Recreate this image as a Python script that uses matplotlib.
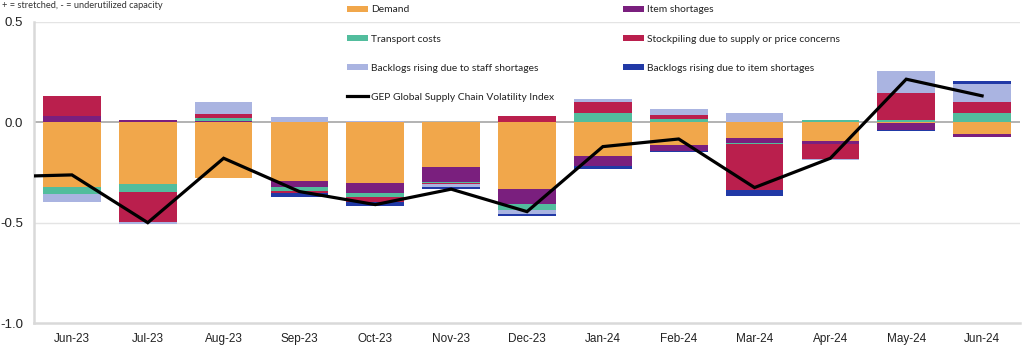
import numpy as np
import matplotlib
matplotlib.use("Agg")
import matplotlib.pyplot as plt
from matplotlib.patches import Patch
from matplotlib.lines import Line2D

months = ["Jun-23", "Jul-23", "Aug-23", "Sep-23", "Oct-23", "Nov-23", "Dec-23",
          "Jan-24", "Feb-24", "Mar-24", "Apr-24", "May-24", "Jun-24"]

# component contributions, stacked in this order
demand = [-0.323, -0.307, -0.277, -0.292, -0.300, -0.221, -0.333,
          -0.166, -0.113, -0.076, -0.093, -0.005, -0.058]
item_shortages = [0.033, 0.011, 0.008, -0.028, -0.053, -0.075, -0.073,
                  -0.050, -0.028, -0.026, -0.013, -0.035, -0.015]
transport = [-0.032, -0.038, 0.015, -0.020, -0.017, -0.008, -0.033,
             0.047, 0.016, -0.006, 0.011, 0.011, 0.048]
stockpiling = [0.100, -0.150, 0.018, -0.013, -0.028, -0.005, 0.033,
               0.055, 0.020, -0.227, -0.078, 0.133, 0.055]
backlog_staff = [-0.040, -0.012, 0.060, 0.028, 0.008, -0.012, -0.020,
                 0.015, 0.028, 0.045, -0.005, 0.112, 0.088]
backlog_item = [0.0, 0.0, 0.0, -0.017, -0.018, -0.013, -0.010,
                -0.017, -0.008, -0.030, 0.0, -0.003, 0.017]

# index line, first value is May-23 (runs in from the left edge)
index_x = list(range(-1, len(months)))
index_vals = [-0.272, -0.262, -0.500, -0.179, -0.345, -0.410, -0.333, -0.445,
              -0.121, -0.083, -0.325, -0.179, 0.215, 0.132]

series = [
    ("Demand", demand, "#F1A74B"),
    ("Item shortages", item_shortages, "#7A1F7E"),
    ("Transport costs", transport, "#52BD9D"),
    ("Stockpiling due to supply or price concerns", stockpiling, "#BA1F4D"),
    ("Backlogs rising due to staff shortages", backlog_staff, "#AAB4E1"),
    ("Backlogs rising due to item shortages", backlog_item, "#2139A6"),
]

plt.rcParams["font.family"] = ["Liberation Sans", "DejaVu Sans"]

fig = plt.figure(figsize=(10.24, 3.47), dpi=100)
ax = fig.add_axes([34 / 1024, 1 - 323 / 347, (1020 - 34) / 1024, (323 - 22) / 347])

x = np.arange(len(months))
pos_base = np.zeros(len(months))
neg_base = np.zeros(len(months))
handles = {}
for name, vals, color in series:
    v = np.array(vals)
    bottom = np.where(v >= 0, pos_base, neg_base)
    ax.bar(x, v, width=0.76, bottom=bottom, color=color, linewidth=0, zorder=2)
    pos_base += np.clip(v, 0, None)
    neg_base += np.clip(v, None, 0)
    handles[name] = Patch(facecolor=color, edgecolor="none")

ax.plot(index_x, index_vals, color="black", linewidth=2.3, zorder=3,
        solid_joinstyle="miter")

ax.set_xlim(-0.5, len(months) - 0.5)
ax.set_ylim(-1.0, 0.5)
ax.set_yticks([-1.0, -0.5, 0.0, 0.5])
ax.set_yticklabels(["-1.0", "-0.5", "0.0", "0.5"])
ax.set_xticks(x)
ax.set_xticklabels(months)
ax.tick_params(axis="both", length=0, labelsize=8.5, colors="#222222")
ax.tick_params(axis="y", labelsize=9.5, pad=8)
ax.tick_params(axis="x", pad=7)

for y in (0.5, -0.5):
    ax.axhline(y, color="#e4e4e4", linewidth=1.0, zorder=1)
ax.axhline(0.0, color="#a6a6a6", linewidth=1.2, zorder=1)

for side in ("top", "right"):
    ax.spines[side].set_visible(False)
for side in ("left", "bottom"):
    ax.spines[side].set_color("#d9d9d9")
    ax.spines[side].set_linewidth(1.8)

fig.text(2 / 1024, 1 - 6 / 347, "+ = stretched, - = underutilized capacity",
         fontsize=6.7, color="#333333", va="center", family=["Lato", "DejaVu Sans"])

leg_font = {"family": ["Lato", "DejaVu Sans"], "size": 7.4}
col1 = ["Demand", "Transport costs", "Backlogs rising due to staff shortages"]
col2 = ["Item shortages", "Stockpiling due to supply or price concerns",
        "Backlogs rising due to item shortages"]
h1 = [handles[n] for n in col1] + [Line2D([0], [0], color="black", linewidth=2.3)]
l1 = col1 + ["GEP Global Supply Chain Volatility Index"]
h2 = [handles[n] for n in col2]

common = dict(frameon=False, prop=leg_font, handlelength=2.05, handleheight=0.55,
              handletextpad=0.3, labelspacing=1.95, borderaxespad=0,
              borderpad=0, labelcolor="#222222")
leg1 = fig.legend(h1, l1, loc="upper left",
                  bbox_to_anchor=(347 / 1024, 1 - 5.5 / 347), **common)
leg2 = fig.legend(h2, col2, loc="upper left",
                  bbox_to_anchor=(623 / 1024, 1 - 5.5 / 347), **common)

fig.savefig("out.png", dpi=100)
